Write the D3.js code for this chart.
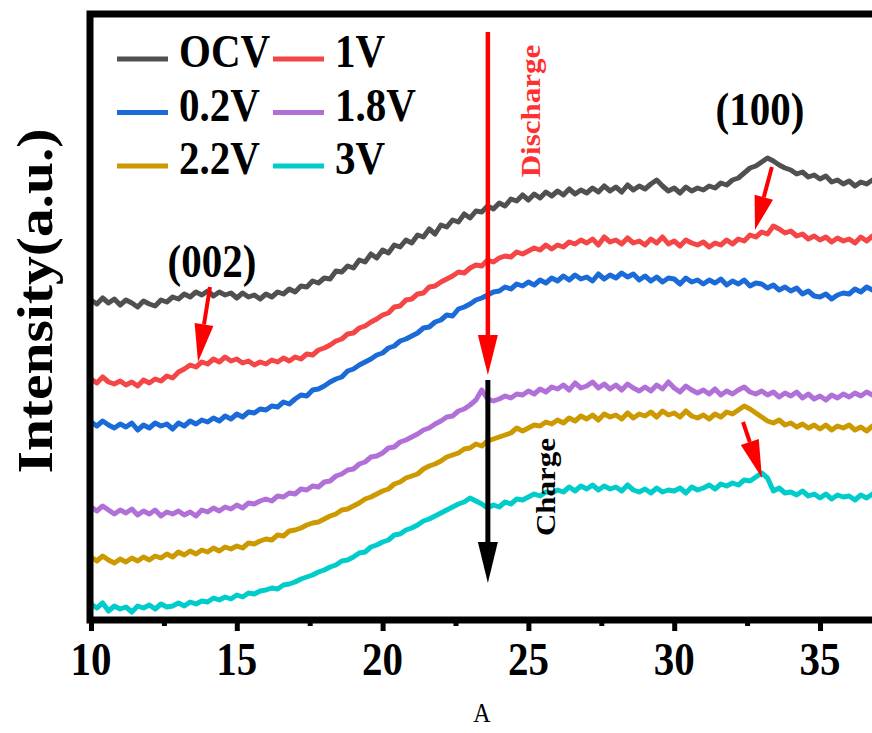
<!DOCTYPE html>
<html lang="en">
<head>
<meta charset="UTF-8">
<title>XRD</title>
<script src="https://cdn.jsdelivr.net/npm/d3@7/dist/d3.min.js"></script>
<style>
  body { margin: 0; background: #fff; }
  text { font-family: "Liberation Serif", "DejaVu Serif", serif; }
</style>
</head>
<body>
<svg width="872" height="733" id="main"></svg>
<script>
// 2theta from 10 to 37, step 0.2
const angles = d3.range(0, 136).map(i => +(10 + i * 0.2).toFixed(1));

const ocv = [320,316,322,317,321, 315,320,317,313,319, 316,314,320,318,323, 321,326,323,328,325,
  329,324,328,325,327, 322,327,323,325,321, 326,323,328,326,331, 328,334,333,339,337,
  342,341,349,348,354, 352,360,358,366,362, 370,367,375,373,380, 377,385,383,391,386,
  395,393,400,398,406, 402,409,408,414,411, 417,414,421,419,425, 420,426,422,428,424,
  429,425,431,426,430, 427,432,428,434,429, 433,428,435,430,434, 431,436,440,434,429,
  432,427,433,429,432, 430,434,432,437,435, 440,442,447,452,454, 458,462,459,455,452,
  450,446,448,443,445, 441,444,438,440,436, 439,434,438,436,440, 437];
const v1 = [241,237,243,238,236, 239,235,238,234,240, 237,241,239,244,242, 248,251,255,253,258,
  256,261,258,263,259, 261,257,259,255,258, 256,260,258,262,259, 263,261,266,265,270,
  272,275,279,281,286, 287,292,294,298,301, 305,307,313,314,320, 321,326,327,333,334,
  338,341,344,348,347, 352,355,354,360,358, 362,364,363,368,366, 369,372,370,375,371,
  375,373,378,376,380, 377,381,375,383,378, 380,376,382,377,379, 375,381,377,383,376,
  379,374,380,377,375, 378,373,377,375,380, 376,381,379,385,383, 388,386,394,391,387,
  389,384,386,381,384, 380,383,378,382,379, 381,377,383,379,384, 381];
const v02 = [198,194,199,195,192, 196,193,197,190,195, 192,197,194,196,191, 197,194,199,196,200,
  198,202,199,204,201, 206,203,208,207,211, 210,214,213,218,216, 221,225,224,230,231,
  234,238,241,243,249, 251,255,258,261,265, 267,272,274,279,281, 284,287,292,293,298,
  300,305,304,311,313, 316,320,322,325,328, 329,333,331,336,334, 338,335,340,337,342,
  339,344,340,345,341, 343,339,346,341,345, 342,347,343,346,340, 344,339,343,338,342,
  341,336,342,338,340, 336,340,337,341,335, 339,336,340,334,337, 336,332,335,330,333,
  329,332,326,329,324, 323,326,321,325,327, 326,331,328,333,330, 332];
const v18 = [113,109,114,110,106, 110,107,111,105,109, 106,110,104,108,106, 109,105,108,104,110,
  108,112,109,113,111, 115,112,117,116,119, 121,119,124,123,127, 126,131,130,134,133,
  138,139,144,146,150, 151,156,158,163,164, 167,172,173,178,180, 183,186,190,192,196,
  199,203,204,209,211, 215,220,230,221,219, 221,224,222,226,225, 229,226,231,228,233,
  231,235,230,237,232, 234,238,232,236,231, 235,230,236,232,229, 233,229,235,231,238,
  232,228,234,230,227, 230,226,231,225,229, 226,230,233,228,226, 229,225,228,223,227,
  224,228,222,226,221, 224,220,225,222,226, 223,227,224,228,225, 227];
const v22 = [63,59,64,60,57, 61,58,62,59,63, 60,64,62,66,63, 68,65,69,66,70,
  68,72,69,73,71, 74,72,77,76,79, 81,80,85,84,89, 90,92,95,97,98,
  101,104,106,110,111, 114,117,121,123,126, 129,131,136,138,142, 144,146,151,154,156,
  159,163,165,167,171, 172,176,174,179,181, 183,185,187,192,189, 192,195,194,198,196,
  200,197,202,199,204, 201,205,200,206,203, 205,201,207,202,206, 204,208,203,209,205,
  207,203,209,204,202, 205,201,206,203,208, 206,210,214,211,207, 203,199,197,200,195,
  197,193,196,192,195, 191,195,190,194,192, 195,190,193,189,194, 193];
const v3 = [16,12,17,9,14, 11,13,8,14,12, 15,11,16,13,14, 17,14,18,16,19,
  18,22,20,23,21, 25,23,27,26,29, 30,32,31,35,36, 38,41,43,45,48,
  50,53,55,59,60, 63,67,68,73,75, 78,80,85,86,90, 92,95,99,101,104,
  107,110,113,116,118, 122,119,116,112,115, 113,118,116,121,120, 123,126,124,128,127,
  130,128,133,129,134, 131,135,130,134,131, 133,129,135,130,128, 131,127,132,128,130,
  129,132,127,133,130, 132,135,131,136,134, 137,135,140,139,143, 147,142,129,132,127,
  128,125,129,124,126, 122,126,121,125,123, 124,120,125,122,126, 124];

const seriesNames = ['OCV', '1V', '0.2V', '1.8V', '2.2V', '3V'];
const seriesValues = [ocv, v1, v02, v18, v22, v3];
const seriesColors = ['#505050', '#f44646', '#1a6ad8', '#b070d8', '#cc9900', '#00cccc'];
const xTicks = [10, 15, 20, 25, 30, 35];

const svg = d3.select('#main');
const plotL = 90, plotT = 14, plotB = 620, plotR = 966;
const x = d3.scaleLinear().domain([10, 40]).range([91, 91 + 30 * 29.16]);
const y = d3.scaleLinear().domain([0, 610]).range([620, 10]);
const sy = 1.15; // vertical stretch of the original figure

svg.append('clipPath').attr('id', 'plot')
  .append('rect').attr('x', plotL).attr('y', plotT).attr('width', plotR - plotL).attr('height', plotB - plotT);

const line = d3.line().x((d, i) => x(angles[i])).y(d => y(d));
const g = svg.append('g').attr('clip-path', 'url(#plot)');
seriesValues.forEach((vals, k) => {
  g.append('path').datum(vals).attr('d', line)
    .attr('fill', 'none').attr('stroke', seriesColors[k])
    .attr('stroke-width', 5).attr('stroke-linejoin', 'round');
});

// frame
svg.append('rect').attr('x', plotL).attr('y', plotT).attr('width', plotR - plotL).attr('height', plotB - plotT)
  .attr('fill', 'none').attr('stroke', '#000').attr('stroke-width', 7);

// x axis ticks
const xAxis = d3.axisBottom(x).tickValues(d3.range(10, 40, 2.5)).tickSize(0).tickFormat('');
const ax = svg.append('g').attr('transform', `translate(0, ${plotB})`).call(xAxis);
ax.select('.domain').remove();
ax.selectAll('.tick').append('line')
  .attr('y1', 3).attr('y2', d => d % 5 === 0 ? 11 : 6)
  .attr('stroke', '#000').attr('stroke-width', 5);

svg.selectAll('.xlab').data(xTicks).join('text')
  .attr('transform', d => `translate(${x(d)}, 675) scale(1, ${sy})`)
  .attr('text-anchor', 'middle').attr('font-size', 41).attr('font-weight', 'bold')
  .text(d => d);

svg.append('text').attr('transform', `translate(482, 722) scale(1, ${sy})`)
  .attr('text-anchor', 'middle').attr('font-size', 24).text('A');

svg.append('text').attr('transform', `translate(52, 301) scale(1, ${sy}) rotate(-90)`)
  .attr('text-anchor', 'middle').attr('font-size', 50).attr('font-weight', 'bold')
  .text('Intensity(a.u.)');

// legend
const legend = svg.append('g');
seriesNames.forEach((name, k) => {
  const col = k % 2, row = Math.floor(k / 2);
  const lx = col === 0 ? 117 : 273;
  const ly = 59 + row * 53.5;
  legend.append('line').attr('x1', lx).attr('x2', lx + 51).attr('y1', ly).attr('y2', ly)
    .attr('stroke', seriesColors[k]).attr('stroke-width', 5);
  legend.append('text').attr('transform', `translate(${lx + 62}, ${ly + 8}) scale(1, ${sy})`)
    .attr('font-size', 41).attr('font-weight', 'bold').text(name);
});

// annotations
function arrow(x1, y1, x2, y2, color, w, hl, hw) {
  const px1 = x(x1), py1 = y(y1), px2 = x(x2), py2 = y(y2);
  const dx = px2 - px1, dy = py2 - py1, len = Math.hypot(dx, dy);
  const ux = dx / len, uy = dy / len;
  const bx = px2 - ux * hl, by = py2 - uy * hl;
  svg.append('line').attr('x1', px1).attr('y1', py1).attr('x2', bx).attr('y2', by)
    .attr('stroke', color).attr('stroke-width', w);
  svg.append('path')
    .attr('d', `M${px2},${py2}L${bx - uy * hw / 2},${by + ux * hw / 2}L${bx + uy * hw / 2},${by - ux * hw / 2}Z`)
    .attr('fill', color);
}
arrow(23.61, 588, 23.61, 245, '#ff0000', 4.5, 40, 20);
arrow(23.61, 240, 23.61, 37, '#000', 5, 41, 20);
arrow(14.08, 333, 13.67, 258, '#ff0000', 4, 38, 19);
arrow(33.35, 453, 32.77, 390, '#ff0000', 4, 34, 19);
arrow(32.36, 198, 33.01, 142, '#ff0000', 4, 38, 19);

svg.append('text').attr('transform', `translate(${x(23.61) + 52}, 111) scale(1, ${sy}) rotate(-90)`)
  .attr('text-anchor', 'middle').attr('font-size', 27).attr('font-weight', 'bold')
  .attr('fill', '#ff3030').text('Discharge');
svg.append('text').attr('transform', `translate(${x(23.61) + 67}, 487) scale(1, ${sy}) rotate(-90)`)
  .attr('text-anchor', 'middle').attr('font-size', 27).attr('font-weight', 'bold')
  .text('Charge');

svg.append('text').attr('transform', `translate(${x(14.15)}, ${y(343)}) scale(1, ${sy})`)
  .attr('text-anchor', 'middle').attr('font-size', 41).attr('font-weight', 'bold').text('(002)');
svg.append('text').attr('transform', `translate(${x(32.94)}, ${y(495)}) scale(1, ${sy})`)
  .attr('text-anchor', 'middle').attr('font-size', 41).attr('font-weight', 'bold').text('(100)');
</script>
</body>
</html>
